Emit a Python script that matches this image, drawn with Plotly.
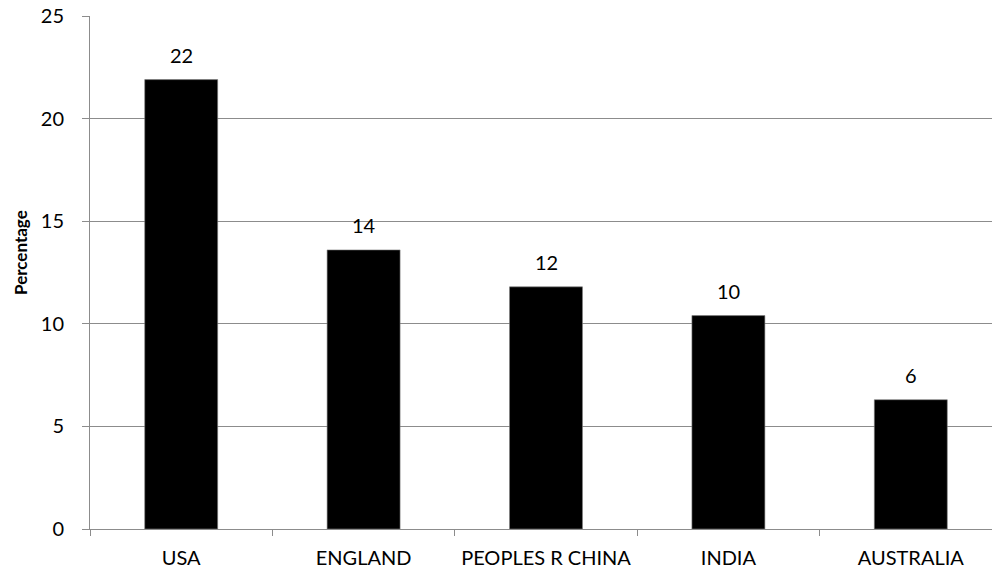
import plotly.graph_objects as go

countries = ["USA", "ENGLAND", "PEOPLES R CHINA", "INDIA", "AUSTRALIA"]
percentages = [21.9, 13.6, 11.8, 10.4, 6.3]
labels = ["22", "14", "12", "10", "6"]
y_ticks = [0, 5, 10, 15, 20, 25]

FONT = "Lato, Carlito, Calibri, sans-serif"
GRID = "#8c8c8c"

fig = go.Figure()
fig.add_trace(go.Bar(
    x=countries, y=percentages,
    marker=dict(color="black", line=dict(color="#7f7f7f", width=0.6)),
    width=0.4,
    hoverinfo="x+y",
))

for c, v, t in zip(countries, percentages, labels):
    fig.add_annotation(x=c, y=v, text=t, showarrow=False, yshift=25,
                       font=dict(family=FONT, size=20, color="black"))

fig.add_annotation(x=-0.0765, y=0.54, xref="paper", yref="paper",
                   xanchor="center", yanchor="middle",
                   text="<b>Percentage</b>", textangle=-90, showarrow=False,
                   font=dict(family=FONT, size=17, color="black"))

plot_w = 992 - 90
fig.update_layout(
    width=992, height=573,
    margin=dict(l=90, r=0, t=16, b=44),
    paper_bgcolor="white", plot_bgcolor="white",
    font=dict(family=FONT, size=20, color="black"),
    showlegend=False,
    bargap=0.6,
    xaxis=dict(
        type="category",
        range=[-0.5, -0.5 + plot_w / 182.4],
        showline=True, linecolor=GRID, linewidth=1,
        ticks="outside", tickson="boundaries", ticklen=6, tickcolor=GRID,
        showgrid=False, ticklabelstandoff=11,
        tickfont=dict(family=FONT, size=20, color="black"),
    ),
    yaxis=dict(
        range=[0, 25], tickvals=y_ticks,
        showline=True, linecolor=GRID, linewidth=1,
        ticks="outside", ticklen=7, tickcolor=GRID,
        showgrid=True, gridcolor=GRID, gridwidth=1,
        zeroline=False, ticklabelstandoff=14,
        tickfont=dict(family=FONT, size=20, color="black"),
    ),
)

fig.write_html("out.html")
